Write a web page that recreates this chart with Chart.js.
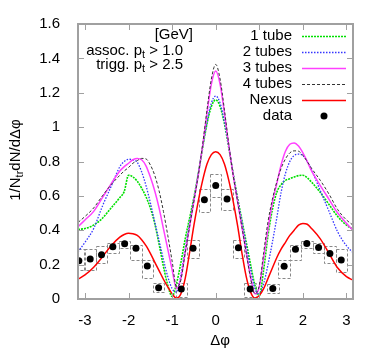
<!DOCTYPE html>
<html><head><meta charset="utf-8">
<script src="https://cdn.jsdelivr.net/npm/chart.js@4"></script>
<style>html,body{margin:0;padding:0;background:#fff}</style>
</head><body>
<canvas id="c" width="382" height="356"></canvas>
<script>
// ---- data ----
const xGrid = [-3.16,-3.0,-2.8,-2.6,-2.4,-2.2,-2.1,-2.0,-1.9,-1.8,-1.7,-1.6,-1.5,-1.4,-1.3,-1.2,-1.1,-1.0,-0.9,-0.8,-0.7,-0.6,-0.5,-0.4,-0.3,-0.2,-0.1,0,0.1,0.2,0.3,0.4,0.5,0.6,0.7,0.8,0.9,1.0,1.1,1.2,1.3,1.4,1.5,1.6,1.7,1.8,1.9,2.0,2.1,2.2,2.4,2.6,2.8,3.0,3.15];
const tube1 = [0.405,0.41,0.43,0.47,0.53,0.59,0.625,0.72,0.71,0.685,0.645,0.595,0.53,0.44,0.32,0.19,0.08,0.015,0.09,0.21,0.35,0.47,0.59,0.73,0.88,1.02,1.12,1.158,1.12,1.02,0.88,0.73,0.59,0.46,0.33,0.2,0.08,0.02,0.17,0.37,0.52,0.62,0.665,0.69,0.70,0.71,0.718,0.72,0.705,0.68,0.62,0.55,0.48,0.43,0.405];
const tube2 = [0.275,0.33,0.41,0.54,0.655,0.77,0.80,0.813,0.81,0.795,0.74,0.66,0.56,0.45,0.34,0.23,0.13,0.06,0.04,0.14,0.29,0.44,0.58,0.73,0.885,1.03,1.14,1.181,1.14,1.03,0.885,0.73,0.585,0.45,0.31,0.17,0.06,0.03,0.09,0.2,0.33,0.47,0.62,0.73,0.80,0.835,0.843,0.835,0.80,0.75,0.63,0.51,0.39,0.31,0.27];
const tube3 = [0.42,0.46,0.51,0.59,0.67,0.745,0.77,0.79,0.81,0.818,0.81,0.775,0.71,0.63,0.53,0.41,0.29,0.17,0.06,0.12,0.27,0.42,0.57,0.72,0.89,1.08,1.25,1.326,1.25,1.08,0.89,0.72,0.57,0.42,0.27,0.13,0.03,0.07,0.24,0.41,0.56,0.67,0.78,0.86,0.90,0.908,0.89,0.85,0.80,0.745,0.66,0.58,0.50,0.44,0.40];
const tube4 = [0.445,0.48,0.53,0.60,0.665,0.72,0.745,0.765,0.79,0.805,0.818,0.815,0.78,0.72,0.63,0.51,0.37,0.22,0.07,0.11,0.27,0.42,0.57,0.72,0.90,1.10,1.28,1.365,1.28,1.10,0.90,0.72,0.57,0.42,0.27,0.12,0.03,0.08,0.27,0.45,0.58,0.68,0.76,0.815,0.85,0.862,0.86,0.835,0.80,0.76,0.69,0.61,0.52,0.46,0.43];
const nexus = [0.115,0.14,0.185,0.245,0.31,0.36,0.375,0.382,0.38,0.37,0.345,0.31,0.265,0.215,0.165,0.115,0.07,0.03,0.005,0.03,0.12,0.27,0.43,0.57,0.69,0.785,0.84,0.857,0.84,0.785,0.69,0.57,0.43,0.27,0.13,0.04,0.005,0.02,0.06,0.12,0.18,0.24,0.29,0.33,0.37,0.40,0.43,0.44,0.435,0.41,0.35,0.265,0.18,0.13,0.11];
const dataX = [-3.14,-2.88,-2.62,-2.36,-2.09,-1.83,-1.57,-1.31,-0.79,-0.52,-0.26,0,0.26,0.52,0.79,1.31,1.57,1.83,2.09,2.36,2.62,2.88];
const dataY = [0.223,0.233,0.258,0.304,0.322,0.295,0.192,0.066,0.058,0.296,0.578,0.661,0.582,0.298,0.058,0.061,0.190,0.290,0.323,0.300,0.265,0.227];
const sysLow = [0.17,0.17,0.208,0.266,0.295,0.227,0.12,0.042,0.013,0.237,0.508,0.595,0.518,0.237,0.013,0.035,0.12,0.227,0.295,0.266,0.208,0.16];
const sysHigh = [0.29,0.29,0.308,0.328,0.335,0.314,0.227,0.091,0.091,0.343,0.638,0.727,0.638,0.343,0.091,0.09,0.227,0.314,0.335,0.328,0.308,0.29];
const xTicks = [-3,-2,-1,0,1,2,3];
const yTicks = [0,0.2,0.4,0.6,0.8,1.0,1.2,1.4,1.6];
const seriesLabels = ['1 tube','2 tubes','3 tubes','4 tubes','Nexus','data'];

const FONT = "'Liberation Sans', Arial, Helvetica, sans-serif";
const pts = (xs, ys) => xs.map((x, i) => ({x, y: ys[i]}));
const binHalf = Math.PI / 24;

const frame = {
  id: 'frame',
  beforeDatasetsDraw(chart) {
    const {ctx, scales: {x, y}, chartArea: a} = chart;
    ctx.save();
    ctx.beginPath(); ctx.rect(a.left, a.top, a.right - a.left, a.bottom - a.top); ctx.clip();
    ctx.strokeStyle = '#888'; ctx.lineWidth = 1; ctx.setLineDash([3, 2]);
    dataX.forEach((v, i) => {
      const x0 = Math.round(x.getPixelForValue(v - binHalf)) + 0.5;
      const x1 = Math.round(x.getPixelForValue(v + binHalf)) + 0.5;
      const y0 = Math.round(y.getPixelForValue(sysHigh[i])) + 0.5;
      const y1 = Math.round(y.getPixelForValue(sysLow[i])) + 0.5;
      ctx.strokeRect(x0, y0, x1 - x0, y1 - y0);
    });
    ctx.restore();
  },
  afterDraw(chart) {
    const {ctx, scales: {x, y}, chartArea: a} = chart;
    ctx.save();
    ctx.strokeStyle = '#a0a0a0'; ctx.lineWidth = 2; ctx.setLineDash([]);
    ctx.strokeRect(a.left, a.top, a.right - a.left, a.bottom - a.top);
    ctx.lineWidth = 1;
    const tl = 6;
    ctx.beginPath();
    xTicks.forEach(v => {
      const px = Math.round(x.getPixelForValue(v)) + 0.5;
      ctx.moveTo(px, a.bottom); ctx.lineTo(px, a.bottom - tl);
      ctx.moveTo(px, a.top); ctx.lineTo(px, a.top + tl);
    });
    yTicks.forEach(v => {
      const py = Math.round(y.getPixelForValue(v)) + 0.5;
      ctx.moveTo(a.left, py); ctx.lineTo(a.left + tl, py);
      ctx.moveTo(a.right, py); ctx.lineTo(a.right - tl, py);
    });
    ctx.stroke();

    ctx.fillStyle = '#000';
    ctx.textBaseline = 'middle';
    const big = '15px ' + FONT, small = '11px ' + FONT;
    const measure = parts => parts.reduce((w, p) => { ctx.font = p.sub ? small : big; return w + ctx.measureText(p.t).width; }, 0);
    const drawParts = (parts, x0, y0) => {
      let cx = x0;
      parts.forEach(p => {
        ctx.font = p.sub ? small : big;
        ctx.textAlign = 'left';
        ctx.fillText(p.t, cx, y0 + (p.sub ? 4 : 0));
        cx += ctx.measureText(p.t).width;
      });
    };
    const rightText = (parts, xr, y0) => drawParts(parts, xr - measure(parts), y0);

    rightText([{t: '[GeV]'}], 193, 35);
    rightText([{t: 'assoc. p'}, {t: 't', sub: true}, {t: ' > 1.0'}], 183, 51);
    rightText([{t: 'trigg. p'}, {t: 't', sub: true}, {t: ' > 2.5'}], 183, 65);

    const yt = [{t: '1/N'}, {t: 'tr', sub: true}, {t: 'dN/d\u0394\u03c6'}];
    ctx.save();
    ctx.translate(16, 160);
    ctx.rotate(-Math.PI / 2);
    drawParts(yt, -measure(yt) / 2, 0);
    ctx.restore();

    ctx.font = big; ctx.textAlign = 'center';
    ctx.fillText('\u0394\u03c6', 220, 341);

    const rows = [36, 52, 68, 84, 100, 116];
    chart.data.datasets.slice().sort((p, q) => seriesLabels.indexOf(p.label) - seriesLabels.indexOf(q.label)).forEach((ds, i) => {
      const yy = rows[i];
      ctx.font = big; ctx.textAlign = 'right'; ctx.fillStyle = '#000';
      ctx.fillText(ds.label, 292, yy);
      if (ds.showLine === false) {
        ctx.beginPath(); ctx.arc(324, yy, 3.5, 0, Math.PI * 2); ctx.fill();
      } else {
        ctx.strokeStyle = ds.borderColor; ctx.lineWidth = ds.borderWidth;
        ctx.setLineDash(ds.borderDash || []);
        ctx.beginPath(); ctx.moveTo(302, yy + 0.5); ctx.lineTo(346, yy + 0.5); ctx.stroke();
        ctx.setLineDash([]);
      }
    });
    ctx.restore();
  }
};

const lineDs = (label, ys, color, width, dash, order) => ({
  label, data: pts(xGrid, ys), borderColor: color, borderWidth: width, borderDash: dash,
  pointRadius: 0, fill: false, cubicInterpolationMode: 'monotone', order
});

new Chart(document.getElementById('c'), {
  type: 'line',
  data: {
    datasets: [
      {label: 'data', data: pts(dataX, dataY), showLine: false, pointRadius: 3.5, pointBackgroundColor: '#000', pointBorderWidth: 0, borderColor: '#000', order: 0},
      lineDs('Nexus', nexus, '#ff0000', 1.5, [], 1),
      lineDs('4 tubes', tube4, '#333333', 1, [3, 2], 2),
      lineDs('3 tubes', tube3, '#ff40ff', 1.5, [], 3),
      lineDs('2 tubes', tube2, '#3535ff', 1.3, [1.5, 1.5], 4),
      lineDs('1 tube', tube1, '#00e000', 1.6, [2, 1], 5)
    ]
  },
  options: {
    responsive: false, animation: false, devicePixelRatio: 1,
    layout: {padding: {left: 0, right: 29, top: 24, bottom: 0}},
    plugins: {legend: {display: false}, tooltip: {enabled: false}},
    scales: {
      x: {
        type: 'linear', min: -3.16, max: 3.15,
        afterBuildTicks: s => { s.ticks = xTicks.map(v => ({value: v})); },
        afterFit: s => { s.height = 57; },
        grid: {display: false}, border: {display: false},
        ticks: {font: {family: FONT, size: 15}, color: '#000', padding: 5, maxRotation: 0, autoSkip: false}
      },
      y: {
        type: 'linear', min: 0, max: 1.6,
        afterBuildTicks: s => { s.ticks = yTicks.map(v => ({value: v})); },
        afterFit: s => { s.width = 78; },
        grid: {display: false}, border: {display: false},
        ticks: {font: {family: FONT, size: 15}, color: '#000', padding: 10, autoSkip: false,
          callback: v => String(+(+v).toFixed(1))}
      }
    }
  },
  plugins: [frame]
});
</script>
</body></html>
